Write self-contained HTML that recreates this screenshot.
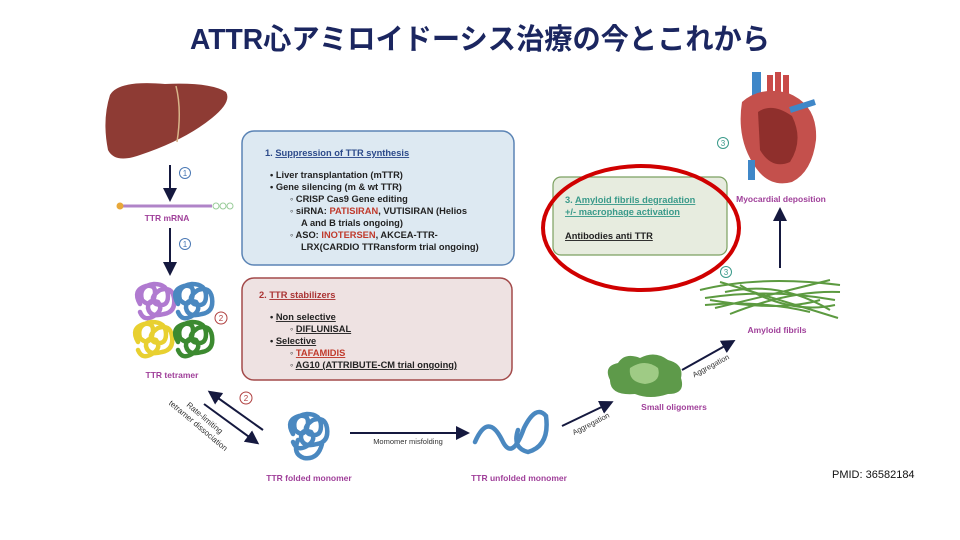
<!DOCTYPE html>
<html><head><meta charset="utf-8"><style>
html,body{margin:0;padding:0;background:#fff;}
svg{display:block;font-family:"Liberation Sans","Noto Sans CJK JP",sans-serif;}
.lab{fill:#a0409a;font-size:8.5px;font-weight:bold;}
.bt{font-size:9.3px;font-weight:bold;fill:#222;}
</style></head><body>
<svg width="960" height="540" viewBox="0 0 960 540" xmlns="http://www.w3.org/2000/svg">
<defs>
<marker id="ah2" markerWidth="14" markerHeight="14" refX="10" refY="7" orient="auto" markerUnits="userSpaceOnUse"><path d="M0,0 L14,7 L0,14 z" fill="#15193f"/></marker>
<g id="blob"><path d="M8,22 q-8,-14 6,-18 q12,-2 8,12 q-4,10 -12,2 q-4,-14 12,-16 q14,0 14,12 q0,12 -12,8 q-8,-6 4,-14 q12,-4 14,8 q2,14 -10,16 q-14,4 -16,-6 q0,-10 10,-6 q6,8 -4,14 q-10,6 -14,-4" fill="none" stroke-width="4.5" stroke-linecap="round"/></g>
</defs>
<text x="480" y="49" text-anchor="middle" font-size="29" font-weight="bold" fill="#1b2660" textLength="580" lengthAdjust="spacingAndGlyphs">ATTR心アミロイドーシス治療の今とこれから</text>

<!-- liver -->
<path d="M110,95 Q118,80 165,84 Q210,82 226,92 Q232,102 212,118 Q185,140 140,155 Q115,164 108,150 Q102,120 110,95z" fill="#8e3b34"/>
<path d="M176,86 Q182,110 177,142" stroke="#d8b58a" stroke-width="1.5" fill="none"/>
<line x1="170" y1="165" x2="170" y2="198" stroke="#15193f" stroke-width="2" marker-end="url(#ah2)"/>
<circle cx="185" cy="173" r="5.5" fill="none" stroke="#4a78b4" stroke-width="1"/><text x="185" y="176" font-size="8" text-anchor="middle" fill="#4a78b4">1</text>
<!-- mRNA -->
<line x1="118" y1="206" x2="212" y2="206" stroke="#b084c8" stroke-width="3"/>
<circle cx="120" cy="206" r="3.5" fill="#e8a83a"/>
<circle cx="216" cy="206" r="3" fill="none" stroke="#9c9"/><circle cx="223" cy="206" r="3" fill="none" stroke="#9c9"/><circle cx="230" cy="206" r="3" fill="none" stroke="#9c9"/>
<text x="167" y="221" class="lab" text-anchor="middle">TTR mRNA</text>
<line x1="170" y1="228" x2="170" y2="272" stroke="#15193f" stroke-width="2" marker-end="url(#ah2)"/>
<circle cx="185" cy="244" r="5.5" fill="none" stroke="#4a78b4" stroke-width="1"/><text x="185" y="247" font-size="8" text-anchor="middle" fill="#4a78b4">1</text>
<!-- tetramer -->
<use href="#blob" x="132" y="282" stroke="#b07ad0"/>
<use href="#blob" x="170" y="282" stroke="#4a88c0"/>
<use href="#blob" x="130" y="320" stroke="#e8d030"/>
<use href="#blob" x="170" y="320" stroke="#3c8a30"/>
<circle cx="221" cy="318" r="6" fill="none" stroke="#b04040" stroke-width="1"/><text x="221" y="321" font-size="8" text-anchor="middle" fill="#b04040">2</text>
<text x="172" y="378" class="lab" text-anchor="middle">TTR tetramer</text>

<!-- dissociation arrows -->
<line x1="263" y1="430" x2="211" y2="393" stroke="#15193f" stroke-width="2" marker-end="url(#ah2)"/>
<line x1="204" y1="404" x2="256" y2="442" stroke="#15193f" stroke-width="2" marker-end="url(#ah2)"/>
<circle cx="246" cy="398" r="6" fill="none" stroke="#b04040" stroke-width="1"/><text x="246" y="401" font-size="8" text-anchor="middle" fill="#b04040">2</text>
<g transform="translate(203,420) rotate(40)" font-size="8" fill="#333" text-anchor="middle"><text x="0" y="0">Rate-limiting</text><text x="0" y="10">tetramer dissociation</text></g>

<!-- box1 -->
<rect x="242" y="131" width="272" height="134" rx="12" fill="#dde9f2" stroke="#5b84b5" stroke-width="1.5"/>
<text x="265" y="156" class="bt" style="fill:#2c4a8a">1. <tspan text-decoration="underline">Suppression of TTR synthesis</tspan></text>
<text x="270" y="178" class="bt">•  Liver transplantation (mTTR)</text>
<text x="270" y="190" class="bt">•  Gene silencing (m &amp; wt TTR)</text>
<text x="290" y="202" class="bt">◦  CRISP Cas9 Gene editing</text>
<text x="290" y="214" class="bt">◦  siRNA: <tspan fill="#c0392b">PATISIRAN</tspan>, VUTISIRAN (Helios</text>
<text x="301" y="226" class="bt">A and B trials ongoing)</text>
<text x="290" y="238" class="bt">◦  ASO: <tspan fill="#c0392b">INOTERSEN</tspan>, AKCEA-TTR-</text>
<text x="301" y="250" class="bt">LRX(CARDIO TTRansform trial ongoing)</text>

<!-- box2 -->
<rect x="242" y="278" width="270" height="102" rx="12" fill="#eee2e2" stroke="#a34a4a" stroke-width="1.5"/>
<text x="259" y="298" class="bt" style="fill:#a33">2. <tspan text-decoration="underline">TTR stabilizers</tspan></text>
<text x="270" y="320" class="bt">•  <tspan text-decoration="underline">Non selective</tspan></text>
<text x="290" y="332" class="bt">◦  <tspan text-decoration="underline">DIFLUNISAL</tspan></text>
<text x="270" y="344" class="bt">•  <tspan text-decoration="underline">Selective</tspan></text>
<text x="290" y="356" class="bt">◦  <tspan text-decoration="underline" fill="#c0392b">TAFAMIDIS</tspan></text>
<text x="290" y="368" class="bt">◦  <tspan text-decoration="underline">AG10 (ATTRIBUTE-CM trial ongoing)</tspan></text>

<!-- box3 -->
<rect x="553" y="177" width="174" height="78" rx="8" fill="#e7ecdf" stroke="#7ba060" stroke-width="1.2"/>
<text x="565" y="203" class="bt" style="fill:#3a9a8a">3. <tspan text-decoration="underline">Amyloid fibrils degradation</tspan></text>
<text x="565" y="215" class="bt" style="fill:#3a9a8a" text-decoration="underline">+/- macrophage   activation</text>
<text x="565" y="239" class="bt" text-decoration="underline">Antibodies anti TTR</text>
<ellipse cx="641" cy="228" rx="98" ry="62" fill="none" stroke="#d00000" stroke-width="4"/>

<!-- heart -->
<rect x="752" y="72" width="9" height="40" fill="#3f87c8"/>
<path d="M770,75 l0,25 M778,72 l0,25 M786,75 l0,25" stroke="#c94a48" stroke-width="6"/>
<path d="M742,102 Q760,86 788,93 Q818,105 816,140 Q812,172 792,182 Q770,188 756,168 Q736,140 742,102z" fill="#c4504c"/>
<path d="M758,112 Q772,102 792,116 Q804,140 790,162 Q772,170 760,150z" fill="#8f2f2c"/>
<path d="M790,110 l25,-8" stroke="#3f87c8" stroke-width="6"/>
<rect x="748" y="160" width="7" height="20" fill="#3f87c8"/>
<circle cx="723" cy="143" r="5.5" fill="none" stroke="#3a9a8a"/><text x="723" y="146" font-size="8" text-anchor="middle" fill="#3a9a8a">3</text>
<text x="781" y="202" class="lab" text-anchor="middle">Myocardial deposition</text>
<line x1="780" y1="268" x2="780" y2="211" stroke="#15193f" stroke-width="2" marker-end="url(#ah2)"/>
<circle cx="726" cy="272" r="5.5" fill="none" stroke="#3a9a8a"/><text x="726" y="275" font-size="8" text-anchor="middle" fill="#3a9a8a">3</text>

<!-- fibrils -->
<g stroke="#5c9a40" stroke-width="2" fill="none">
<path d="M700,290 Q760,275 840,285"/><path d="M705,298 Q770,288 835,300"/><path d="M715,308 Q770,295 830,280"/>
<path d="M720,282 Q780,300 838,318"/><path d="M710,300 Q780,312 820,300"/><path d="M730,314 Q790,290 840,292"/>
<path d="M725,292 Q780,280 830,310"/><path d="M740,285 Q790,315 835,305"/><path d="M705,305 Q760,300 810,312"/>
</g>
<text x="777" y="333" class="lab" text-anchor="middle">Amyloid fibrils</text>

<!-- oligomers -->
<path d="M610,380 Q603,366 618,363 Q625,352 640,358 Q655,350 668,360 Q684,364 681,378 Q686,394 668,394 Q650,400 635,394 Q610,396 610,380z" fill="#5e9a4a"/>
<path d="M630,368 Q645,358 658,368 Q662,382 645,384 Q628,382 630,368z" fill="#9fcb85"/>
<text x="674" y="410" class="lab" text-anchor="middle">Small oligomers</text>
<line x1="682" y1="370" x2="732" y2="342" stroke="#15193f" stroke-width="2" marker-end="url(#ah2)"/>
<text transform="translate(712,368) rotate(-28)" font-size="7.5" fill="#333" text-anchor="middle">Aggregation</text>
<line x1="562" y1="426" x2="610" y2="403" stroke="#15193f" stroke-width="2" marker-end="url(#ah2)"/>
<text transform="translate(592,426) rotate(-27)" font-size="7.5" fill="#333" text-anchor="middle">Aggregation</text>

<!-- unfolded monomer -->
<path d="M475,442 Q488,412 502,440 Q512,462 524,428 Q536,404 546,416 Q550,446 528,452 Q512,448 518,430" fill="none" stroke="#4a88c0" stroke-width="4.5" stroke-linecap="round"/>
<text x="519" y="481" class="lab" text-anchor="middle">TTR unfolded monomer</text>
<line x1="350" y1="433" x2="466" y2="433" stroke="#15193f" stroke-width="2" marker-end="url(#ah2)"/>
<text x="408" y="444" font-size="7.5" fill="#333" text-anchor="middle">Momomer misfolding</text>

<!-- folded monomer -->
<use href="#blob" x="285" y="412" stroke="#4a88c0"/>
<path d="M298,440 q-6,14 6,18 q14,2 18,-14" fill="none" stroke="#4a88c0" stroke-width="4.5" stroke-linecap="round"/>
<text x="309" y="481" class="lab" text-anchor="middle">TTR folded monomer</text>

<text x="832" y="478" font-size="11" fill="#111">PMID: 36582184</text>
</svg>
</body></html>
